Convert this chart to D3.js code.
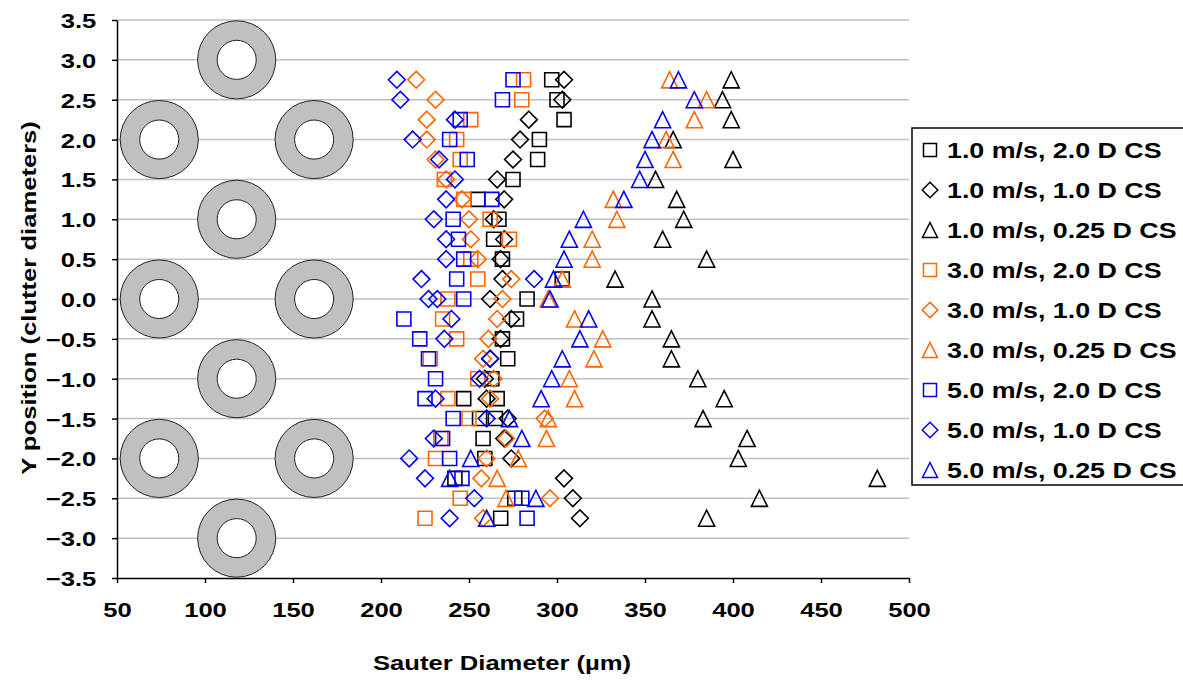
<!DOCTYPE html>
<html>
<head>
<meta charset="utf-8">
<script src="https://cdn.jsdelivr.net/npm/d3@7"></script>
<style>
  body { margin: 0; background: #fff; }
  svg { display: block; font-family: "Liberation Sans", Arial, sans-serif; font-weight: bold; }
</style>
</head>
<body>
<svg id="chart" width="1183" height="683"></svg>
<script>
// ---- data (Sauter diameter in um, Y position in clutter diameters) ----
const xTickValues = [50, 100, 150, 200, 250, 300, 350, 400, 450, 500];
const yTickValues = [-3.5, -3, -2.5, -2, -1.5, -1, -0.5, 0, 0.5, 1, 1.5, 2, 2.5, 3, 3.5];

const seriesNames = [
    "1.0 m/s, 2.0 D CS", "1.0 m/s, 1.0 D CS", "1.0 m/s, 0.25 D CS",
    "3.0 m/s, 2.0 D CS", "3.0 m/s, 1.0 D CS", "3.0 m/s, 0.25 D CS",
    "5.0 m/s, 2.0 D CS", "5.0 m/s, 1.0 D CS", "5.0 m/s, 0.25 D CS"
];

const v1cs20 = [[297,2.75],[300,2.5],[304,2.25],[290,2],[289,1.75],[275,1.5],[255,1.25],[267,1],[264,0.75],[269,0.5],[303,0.25],[283,0],[277,-0.25],[269,-0.5],[272,-0.75],[263,-1],[247,-1.25],[266,-1.25],[256,-1.5],[265,-1.5],[258,-1.75],[259,-2],[242,-2.25],[276,-2.5],[268,-2.75]];
const v1cs10 = [[304,2.75],[303,2.5],[284,2.25],[279,2],[275,1.75],[266,1.5],[270,1.25],[264,1],[270,0.75],[268,0.5],[269,0.25],[262,0],[274,-0.25],[268,-0.5],[262,-0.75],[259,-1],[260,-1.25],[272,-1.5],[270,-1.75],[274,-2],[304,-2.25],[309,-2.5],[313,-2.75]];
const v1cs025 = [[399,2.75],[394,2.5],[399,2.25],[366,2],[400,1.75],[356,1.5],[368,1.25],[372,1],[360,0.75],[385,0.5],[333,0.25],[354,0],[354,-0.25],[365,-0.5],[365,-0.75],[380,-1],[395,-1.25],[383,-1.5],[408,-1.75],[403,-2],[482,-2.25],[415,-2.5],[385,-2.75]];
const v3cs20 = [[281,2.75],[280,2.5],[251,2.25],[243,2],[245,1.75],[236,1.5],[247,1.25],[262,1],[273,0.75],[251,0.5],[255,0.25],[238,0],[235,-0.25],[243,-0.5],[228,-0.75],[255,-1],[238,-1.25],[250,-1.5],[234,-1.75],[231,-2],[245,-2.5],[225,-2.75]];
const v3cs10 = [[220,2.75],[231,2.5],[226,2.25],[226,2],[231,1.75],[237,1.5],[246,1.25],[250,1],[251,0.75],[255,0.5],[274,0.25],[269,0],[266,-0.25],[261,-0.5],[258,-0.75],[264,-1],[262,-1.25],[293,-1.5],[271,-1.75],[260,-2],[257,-2.25],[296,-2.5],[258,-2.75]];
const v3cs025 = [[364,2.75],[385,2.5],[378,2.25],[362,2],[366,1.75],[332,1.25],[334,1],[320,0.75],[320,0.5],[303,0.25],[295,0],[310,-0.25],[326,-0.5],[321,-0.75],[307,-1],[310,-1.25],[295,-1.5],[294,-1.75],[278,-2],[266,-2.25],[271,-2.5]];
const v5cs20 = [[275,2.75],[269,2.5],[245,2.25],[239,2],[249,1.75],[263,1.25],[241,1],[244,0.75],[247,0.5],[243,0.25],[247,0],[213,-0.25],[222,-0.5],[227,-0.75],[231,-1],[225,-1.25],[241,-1.5],[235,-1.75],[239,-2],[246,-2.25],[280,-2.5],[283,-2.75]];
const v5cs10 = [[209,2.75],[211,2.5],[242,2.25],[218,2],[233,1.75],[242,1.5],[237,1.25],[230,1],[237,0.75],[237,0.5],[223,0.25],[287,0.25],[227,0],[232,0],[240,-0.25],[236,-0.5],[262,-0.75],[256,-1],[231,-1.25],[260,-1.5],[230,-1.75],[216,-2],[225,-2.25],[253,-2.5],[239,-2.75]];
const v5cs025 = [[369,2.75],[378,2.5],[360,2.25],[354,2],[350,1.75],[347,1.5],[338,1.25],[315,1],[307,0.75],[304,0.5],[298,0.25],[296,0],[318,-0.25],[313,-0.5],[303,-0.75],[297,-1],[291,-1.25],[273,-1.5],[280,-1.75],[251,-2],[239,-2.25],[288,-2.5],[260,-2.75]];

const seriesData = [v1cs20, v1cs10, v1cs025, v3cs20, v3cs10, v3cs025, v5cs20, v5cs10, v5cs025];

// clutter cylinders drawn behind the data
const cylX = [118, 74, 162, 118, 74, 162, 118, 74, 162, 118];
const cylY = [3, 2, 2, 1, 0, 0, -1, -2, -2, -3];

// ---- styles ----
const seriesColors = ["#000", "#000", "#000", "#ff6600", "#ff6600", "#ff6600", "#0000ff", "#0000ff", "#0000ff"];
const seriesShapes = ["square", "diamond", "triangle", "square", "diamond", "triangle", "square", "diamond", "triangle"];
const TEXT_SX = 1.22;   // text in the reference is stretched wide

const svg = d3.select("#chart");
const margin = { left: 117, right: 274, top: 20, bottom: 105 };
const W = 1183, H = 683;

const x = d3.scaleLinear().domain([50, 500]).range([margin.left, W - margin.right]);
const y = d3.scaleLinear().domain([-3.5, 3.5]).range([H - margin.bottom, margin.top]);

// gridlines
svg.append("g")
    .selectAll("line")
    .data(yTickValues.filter(d => d > -3.5))
    .enter()
    .append("line")
    .attr("x1", x(50))
    .attr("x2", x(500))
    .attr("y1", d => y(d))
    .attr("y2", d => y(d))
    .attr("stroke", "#c0c0c0")
    .attr("stroke-width", 1.5);

// cylinders
const unitPx = y(0) - y(1);
const cyl = svg.append("g").attr("class", "cylinders");
cylX.forEach((cx, i) => {
    cyl.append("circle")
        .attr("cx", x(cx)).attr("cy", y(cylY[i]))
        .attr("r", 0.49 * unitPx)
        .attr("fill", "#c0c0c0").attr("stroke", "#222").attr("stroke-width", 1);
    cyl.append("circle")
        .attr("cx", x(cx)).attr("cy", y(cylY[i]))
        .attr("r", 0.245 * unitPx)
        .attr("fill", "#fff").attr("stroke", "#222").attr("stroke-width", 1);
});

// axes
const xAxis = svg.append("g")
    .attr("transform", `translate(0,${y(-3.5)})`)
    .call(d3.axisBottom(x).tickValues(xTickValues).tickSize(5).tickSizeOuter(0).tickPadding(19)
        .tickFormat(d3.format("d")));
const yAxis = svg.append("g")
    .attr("transform", `translate(${x(50)},0)`)
    .call(d3.axisLeft(y).tickValues(yTickValues).tickSize(5).tickSizeOuter(0).tickPadding(12)
        .tickFormat(d3.format(".1f")));

[xAxis, yAxis].forEach(a => {
    a.select(".domain").attr("stroke", "#000").attr("stroke-width", 1.5);
    a.selectAll(".tick line").attr("stroke", "#000").attr("stroke-width", 1.5);
    a.selectAll("text")
        .attr("font-size", 21)
        .attr("font-weight", "bold")
        .attr("font-family", "Liberation Sans, Arial, sans-serif")
        .attr("fill", "#000")
        .attr("transform", `scale(${TEXT_SX},1)`);
});
yAxis.selectAll("text").attr("dy", "0.36em");

// axis titles
svg.append("text")
    .attr("transform", `translate(502,670) scale(${TEXT_SX},1)`)
    .attr("text-anchor", "middle")
    .attr("font-size", 21)
    .text("Sauter Diameter (\u00b5m)");

svg.append("text")
    .attr("transform", `translate(36,298) rotate(-90) scale(${TEXT_SX},1)`)
    .attr("text-anchor", "middle")
    .attr("font-size", 21)
    .text("Y position (clutter diameters)");

// markers
function markerPath(shape, s) {
    if (shape === "square") return `M${-s},${-s}H${s}V${s}H${-s}Z`;
    if (shape === "diamond") { const d = s * 1.2; return `M0,${-d}L${d},0L0,${d}L${-d},0Z`; }
    const t = s * 1.15;
    return `M0,${-t}L${t},${t}L${-t},${t}Z`;
}

seriesData.forEach((data, i) => {
    svg.append("g")
        .attr("class", "points")
        .selectAll("path")
        .data(data)
        .enter()
        .append("path")
        .attr("transform", d => `translate(${x(d[0])},${y(d[1])})`)
        .attr("d", markerPath(seriesShapes[i], 7))
        .attr("fill", "none")
        .attr("stroke", seriesColors[i])
        .attr("stroke-width", 1.6);
});

// legend
const legend = svg.append("g").attr("transform", "translate(912,128)");
legend.append("rect")
    .attr("width", 300).attr("height", 357)
    .attr("fill", "#fff").attr("stroke", "#000").attr("stroke-width", 1.5);

const items = legend.selectAll("g.item")
    .data(seriesNames)
    .enter()
    .append("g")
    .attr("class", "item")
    .attr("transform", (d, i) => `translate(0,${22 + i * 40})`);

items.append("path")
    .attr("transform", "translate(18,0)")
    .attr("d", (d, i) => markerPath(seriesShapes[i], 6.5))
    .attr("fill", "none")
    .attr("stroke", (d, i) => seriesColors[i])
    .attr("stroke-width", 1.5);

items.append("text")
    .attr("transform", `translate(35,8) scale(${TEXT_SX},1)`)
    .attr("font-size", 22)
    .text(d => d);
</script>
</body>
</html>
